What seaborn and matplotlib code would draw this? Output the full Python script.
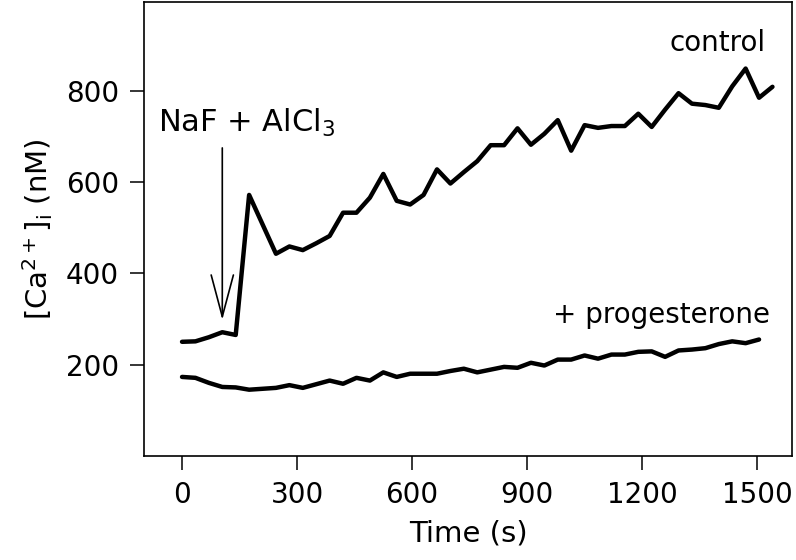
import numpy as np
import pandas as pd
import matplotlib
matplotlib.use("Agg")
import matplotlib.pyplot as plt
import seaborn as sns

# ---- data ----
control_t = [0, 35, 70, 105, 140, 175, 245, 280, 315, 350, 385, 420, 455, 490,
             525, 560, 595, 630, 665, 700, 735, 770, 805, 840, 875, 910, 945,
             980, 1015, 1050, 1085, 1120, 1155, 1190, 1225, 1260, 1295, 1330,
             1365, 1400, 1435, 1470, 1505, 1540]
control_ca = [250, 251, 260, 271, 265, 572, 443, 459, 451, 466, 482, 533, 533,
              566, 618, 559, 551, 572, 628, 597, 622, 646, 681, 681, 718, 682,
              706, 736, 669, 725, 719, 723, 723, 750, 721, 759, 795, 772, 769,
              763, 810, 849, 785, 809]

prog_t = [0, 35, 70, 105, 140, 175, 210, 245, 280, 315, 350, 385, 420, 455,
          490, 525, 560, 595, 630, 665, 700, 735, 770, 805, 840, 875, 910, 945,
          980, 1015, 1050, 1085, 1120, 1155, 1190, 1225, 1260, 1295, 1330,
          1365, 1400, 1435, 1470, 1505]
prog_ca = [173, 171, 160, 151, 150, 145, 147, 149, 155, 149, 157, 165, 158,
           171, 165, 183, 173, 180, 180, 180, 186, 191, 183, 189, 195, 193,
           204, 198, 211, 211, 220, 213, 222, 222, 228, 229, 217, 231, 233,
           236, 245, 251, 247, 255]

x_ticks = [0, 300, 600, 900, 1200, 1500]
y_ticks = [200, 400, 600, 800]

addition_time = 105  # NaF + AlCl3 added

df = pd.concat([
    pd.DataFrame({"t": control_t, "ca": control_ca, "cond": "control"}),
    pd.DataFrame({"t": prog_t, "ca": prog_ca, "cond": "+ progesterone"}),
], ignore_index=True)

sns.set_theme(style="ticks")
plt.rcParams["font.family"] = ["DejaVu Sans"]
plt.rcParams["mathtext.default"] = "regular"
plt.rcParams["text.color"] = "black"
plt.rcParams["axes.labelcolor"] = "black"

fig = plt.figure(figsize=(7.96, 5.60), dpi=100)
ax = fig.add_axes([0.181, 0.186, 0.814, 0.8105])

sns.lineplot(data=df, x="t", y="ca", hue="cond", units="cond", estimator=None,
             palette={"control": "black", "+ progesterone": "black"},
             linewidth=3.2, legend=False, ax=ax, sort=False)

ax.set_xlim(-99, 1591)
ax.set_ylim(0, 995)
ax.set_xticks(x_ticks)
ax.set_yticks(y_ticks)

fs = 20
ax.tick_params(axis="both", which="major", direction="out", length=10,
               width=1.1, pad=8, labelsize=fs, color="black", labelcolor="black")
for s in ax.spines.values():
    s.set_visible(True)
    s.set_linewidth(1.2)
    s.set_color("black")

ax.set_xlabel("Time (s)", fontsize=fs + 1, labelpad=8)
ax.set_ylabel("[Ca$^{2+}$]$_i$ (nM)", fontsize=fs + 1, labelpad=8)

ax.text(1521, 906, "control", ha="right", va="center", fontsize=fs)
ax.text(1534, 292, "+ progesterone", ha="right", va="baseline", fontsize=fs)
ax.text(-63, 710, "NaF + AlCl$_3$", ha="left", va="baseline", fontsize=fs + 2)

ax.annotate("", xy=(addition_time, 298), xytext=(addition_time, 675),
            arrowprops=dict(arrowstyle="->,head_length=1.5,head_width=0.4",
                            lw=1.2, color="black", mutation_scale=20,
                            shrinkA=0, shrinkB=0))

fig.savefig("out.png", dpi=100)
